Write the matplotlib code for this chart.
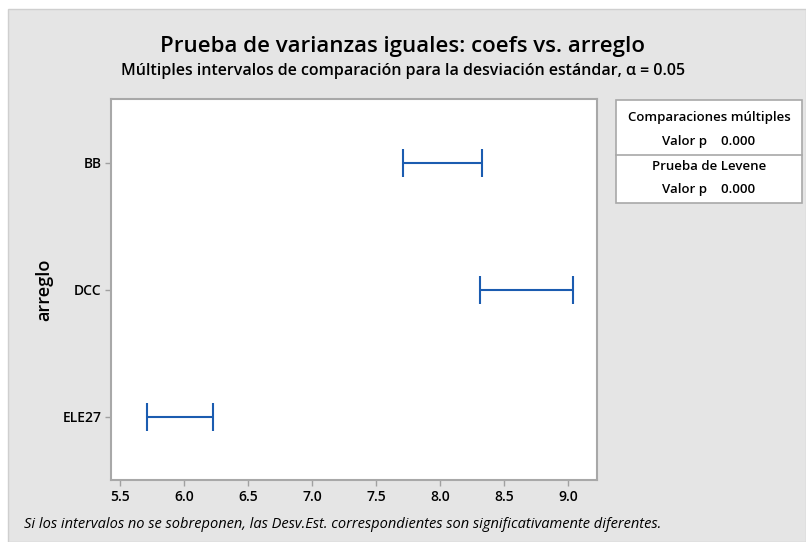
import matplotlib
matplotlib.use('Agg')
import matplotlib.pyplot as plt
from matplotlib.patches import Rectangle
from matplotlib.lines import Line2D

plt.rcParams['font.family'] = ['Open Sans', 'DejaVu Sans']

# data
groups = ['BB', 'DCC', 'ELE27']
lower = [7.71, 8.31, 5.71]
upper = [8.33, 9.04, 6.23]
xticks = [5.5, 6.0, 6.5, 7.0, 7.5, 8.0, 8.5, 9.0]

W, H = 806, 542
fig = plt.figure(figsize=(W / 100, H / 100), dpi=100, facecolor='white')

def px(x, y):
    # pixel coords (top-left origin) -> figure fraction
    return x / W, 1 - y / H

# gray panel behind everything
fig.patches.append(Rectangle(px(8, 542), (W - 8) / W, (542 - 9) / H, transform=fig.transFigure,
                             facecolor='#e5e5e5', edgecolor='#cfcfcf', lw=1, zorder=-10))

l, b = px(111, 480)
r, t = px(597, 99)
ax = fig.add_axes([l, b, r - l, t - b])
ax.set_facecolor('white')

ypos = list(range(len(groups)))
centers = [(lo + hi) / 2 for lo, hi in zip(lower, upper)]
half = [(hi - lo) / 2 for lo, hi in zip(lower, upper)]
ax.errorbar(centers, ypos, xerr=half, fmt='none', ecolor='#1b5cb0', elinewidth=1.5,
            capsize=10, capthick=1.5)

ax.set_xlim(5.43, 9.227)
ax.set_ylim(2.5, -0.5)
ax.set_xticks(xticks)
ax.set_xticklabels([f'{v:.1f}' for v in xticks], fontsize=10, fontweight='semibold')
ax.set_yticks(ypos)
ax.set_yticklabels(groups, fontsize=10, fontweight='semibold')
ax.tick_params(axis='both', length=4, width=1, color='#a0a0a0', pad=3)
for s in ax.spines.values():
    s.set_color('#a8a8a8')
    s.set_linewidth(1.5)

fig.text(*px(44, 290), 'arreglo', rotation=90, ha='center', va='center',
         fontsize=13, fontweight='semibold')

fig.text(*px(403, 52), 'Prueba de varianzas iguales: coefs vs. arreglo', ha='center',
         va='baseline', fontsize=16, fontweight='semibold')
fig.text(*px(403, 75), 'Múltiples intervalos de comparación para la desviación estándar, α = 0.05',
         ha='center', va='baseline', fontsize=11.5, fontweight='semibold')

fig.text(*px(24, 525), 'Si los intervalos no se sobreponen, las Desv.Est. correspondientes son '
         'significativamente diferentes.', ha='left', va='center', fontsize=10.5, style='italic')

# summary box on the right
x0, y0 = px(616, 203)
x1, y1 = px(802, 100)
fig.patches.append(Rectangle((x0, y0), x1 - x0, y1 - y0, transform=fig.transFigure,
                             facecolor='white', edgecolor='#a8a8a8', lw=1.2, zorder=1))
fig.lines.append(Line2D([x0, x1], [px(0, 155)[1]] * 2, transform=fig.transFigure,
                        color='#a8a8a8', lw=1.2, zorder=2))
box_lines = [('Comparaciones múltiples', 118), ('Valor p    0.000', 142),
             ('Prueba de Levene', 166), ('Valor p    0.000', 190)]
for txt, yy in box_lines:
    fig.text(*px(709, yy), txt, ha='center', va='center', fontsize=9.5,
             fontweight='semibold', zorder=3)

fig.savefig('out.png', dpi=100, facecolor=fig.get_facecolor())
